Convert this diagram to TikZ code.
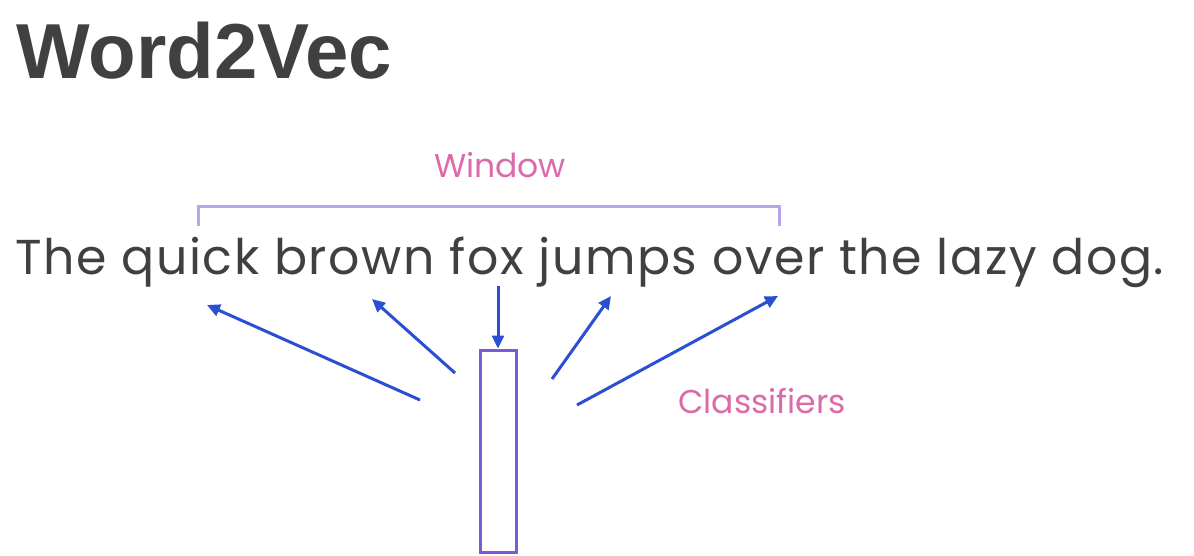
\documentclass[tikz,border=0pt]{standalone}
\usepackage{fontspec}
\setmainfont{Poppins}
\newfontfamily\titlefont{Liberation Sans}
\usetikzlibrary{arrows.meta}
\definecolor{textgray}{HTML}{404040}
\definecolor{tagpink}{HTML}{DB6AAA}
\definecolor{bracketlilac}{HTML}{B9A5E9}
\definecolor{arrowblue}{HTML}{2B4FD2}
\definecolor{boxpurple}{HTML}{7A5BD6}

\begin{document}
\begin{tikzpicture}[x=1pt, y=-1pt,
    ctx/.style={draw=arrowblue, line width=3pt, -{Triangle[length=13pt, width=12pt]}},
    tag/.style={text=tagpink, font=\fontsize{33}{38}\selectfont, inner sep=0}]
    \useasboundingbox[fill=white] (0,0) rectangle (1194,555);
    \node[anchor=base west, inner sep=0, text=textgray, font=\titlefont\bfseries\fontsize{78}{90}\selectfont] (title) at (16,78) {Word2Vec};
    \node[anchor=base west, inner sep=0, text=textgray, font=\fontsize{49}{56}\selectfont\addfontfeature{LetterSpace=3.3}] (sentence) at (15,274) {The quick brown fox jumps over the lazy dog.};
    % window bracket
    \coordinate (winL) at (198,226);
    \coordinate (winR) at (779,226);
    \draw[bracketlilac, line width=3pt] (winL) -- ++(0,-20) -| (winR);
    \node[tag] (window) at (500,165) {Window};
    % classifier box
    \node[draw=boxpurple, line width=3pt, minimum width=36pt, minimum height=202pt, inner sep=0] (clf) at (498,451) {};
    \node[tag] (classifiers) at (762,401) {Classifiers};
    \coordinate (fox) at (498,286);
    \coordinate (quick) at (207,305);
    \coordinate (brown) at (372,299);
    \coordinate (jumps) at (611,296);
    \coordinate (over) at (778,296);
    \coordinate (fromL2) at (420,400);
    \coordinate (fromL1) at (455,373);
    \coordinate (fromR1) at (552,379);
    \coordinate (fromR2) at (577,405);
    \draw[ctx] (fox) -- (clf.north);
    \draw[ctx] (fromL2) -- (quick);
    \draw[ctx] (fromL1) -- (brown);
    \draw[ctx] (fromR1) -- (jumps);
    \draw[ctx] (fromR2) -- (over);
\end{tikzpicture}
\end{document}
